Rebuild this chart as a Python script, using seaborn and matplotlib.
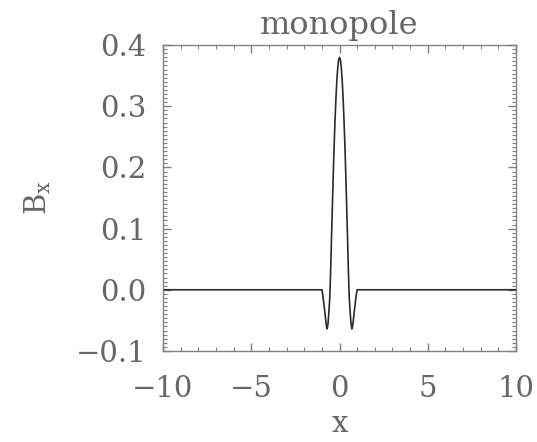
import matplotlib
matplotlib.use("Agg")
import matplotlib.pyplot as plt
from matplotlib.ticker import MultipleLocator
import seaborn as sns
import pandas as pd

# Data
x_pos = [0.0, 0.05, 0.1, 0.15, 0.2, 0.25, 0.3, 0.35, 0.4, 0.45, 0.5,
         0.55, 0.6, 0.65, 0.7, 0.75, 0.8, 0.85, 0.9, 0.95, 1.0, 10.0]
bx_pos = [0.38, 0.376, 0.363, 0.343, 0.315, 0.28, 0.24, 0.193, 0.142, 0.09, 0.034,
          -0.012, -0.035, -0.055, -0.064, -0.058, -0.045, -0.032, -0.02, -0.008, 0.0, 0.0]

x_vals = [-v for v in x_pos[::-1]] + x_pos[1:]
bx_vals = bx_pos[::-1] + bx_pos[1:]

x_ticks = [-10, -5, 0, 5, 10]
x_ticklabels = ["\u221210", "\u22125", "0", "5", "10"]
y_ticks = [-0.1, 0.0, 0.1, 0.2, 0.3, 0.4]
y_ticklabels = ["\u22120.1", "0.0", "0.1", "0.2", "0.3", "0.4"]

df = pd.DataFrame({"x": x_vals, "Bx": bx_vals})

sns.set_theme(style="white")
plt.rcParams["font.family"] = ["DejaVu Serif"]

text_col = "#666666"
fig = plt.figure(figsize=(5.37, 4.42), dpi=100)
ax = fig.add_axes([0.3035, 0.206, 0.6575, 0.692])

sns.lineplot(data=df, x="x", y="Bx", ax=ax, color="#2a2a2a", linewidth=1.2,
             estimator=None, sort=False)

ax.set_xlim(-10, 10)
ax.set_ylim(-0.1, 0.4)
ax.set_xticks(x_ticks)
ax.set_xticklabels(x_ticklabels)
ax.set_yticks(y_ticks)
ax.set_yticklabels(y_ticklabels)
ax.xaxis.set_minor_locator(MultipleLocator(1))
ax.yaxis.set_minor_locator(MultipleLocator(0.1 / 15))

for s in ax.spines.values():
    s.set_color("#808080")
    s.set_linewidth(1.0)

ax.tick_params(which="both", direction="in", top=True, right=True,
               bottom=True, left=True, colors="#808080", labelcolor=text_col,
               labelsize=21)
ax.tick_params(which="major", length=6, width=1.0)
ax.tick_params(which="minor", length=3, width=0.8)
ax.tick_params(axis="y", which="major", pad=12)
ax.tick_params(axis="x", which="major", pad=17)

ax.set_title("monopole", fontsize=23, color=text_col, pad=8)
ax.set_xlabel("x", fontsize=21, color=text_col, labelpad=5)
ax.set_ylabel("B$_\\mathregular{x}$", fontsize=21, color=text_col, labelpad=16)

fig.savefig("out.png", dpi=100)
